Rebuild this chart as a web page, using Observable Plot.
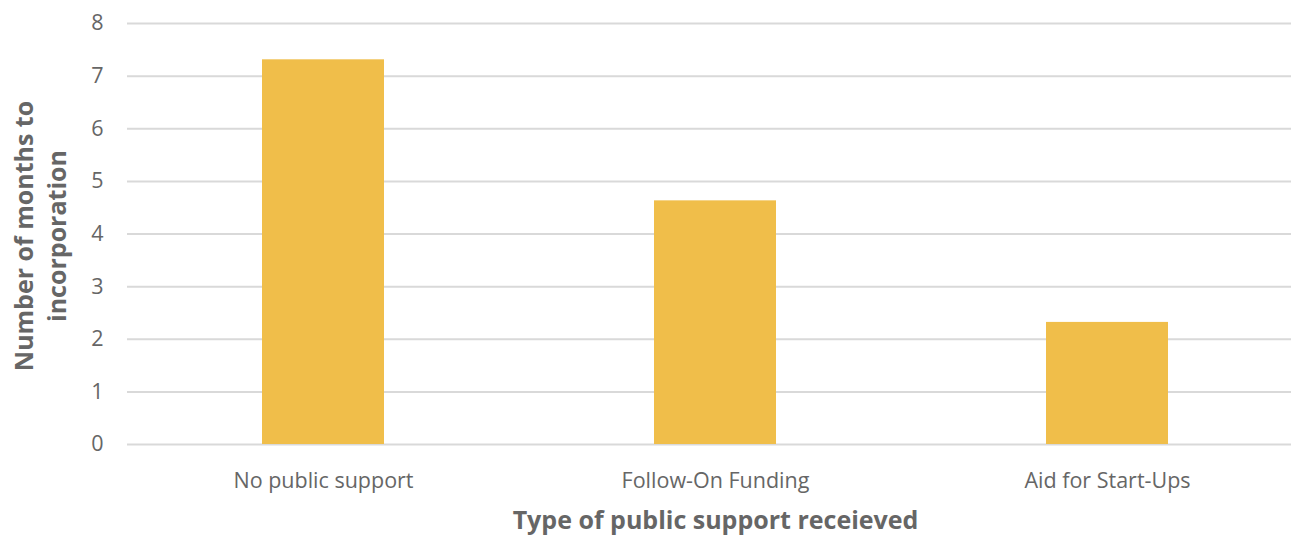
<!DOCTYPE html>
<html>
<head>
<meta charset="utf-8">
<script src="https://cdn.jsdelivr.net/npm/d3@7"></script>
<script src="https://cdn.jsdelivr.net/npm/@observablehq/plot@0.6"></script>
<style>
  html, body { margin: 0; padding: 0; background: #fff; }
  #chart svg { display: block; }
</style>
</head>
<body>
<div id="chart"></div>
<script>
const categories = ["No public support", "Follow-On Funding", "Aid for Start-Ups"];
const months = [7.31, 4.63, 2.32];
const yTicks = [0, 1, 2, 3, 4, 5, 6, 7, 8];
const xTitle = "Type of public support receieved";
const yTitle = "Number of months to\nincorporation";

const data = categories.map((c, i) => ({category: c, value: months[i]}));
const textColor = "#666666";
const font = "'Open Sans', 'Noto Sans', sans-serif";

const chart = Plot.plot({
  width: 1291,
  height: 536,
  marginTop: 23,
  marginBottom: 92,
  marginLeft: 127,
  marginRight: 0,
  style: {fontFamily: font, color: textColor, background: "#fff"},
  x: {domain: categories, range: [127, 1303], paddingInner: 0.69, paddingOuter: 0.345, label: null},
  y: {domain: [0, 8], label: null},
  marks: [
    Plot.ruleY(yTicks, {stroke: "#d9d9d9", strokeWidth: 2}),
    Plot.barY(data, {x: "category", y: "value", fill: "#F0BE4A"}),
    Plot.axisY({ticks: yTicks, tickSize: 0, tickPadding: 24, fontSize: 21.5, fill: textColor, label: null}),
    Plot.axisX({tickSize: 0, tickPadding: 28, fontSize: 21.5, fill: textColor, label: null}),
    Plot.text([xTitle], {frameAnchor: "bottom", x: () => categories[1], dy: 84, fontSize: 25, fontWeight: "bold", fill: textColor}),
    Plot.text([yTitle], {frameAnchor: "left", textAnchor: "middle", dx: -89, dy: 2, rotate: -90, fontSize: 25, fontWeight: "bold", fill: textColor, lineHeight: 1.32})
  ]
});
document.getElementById("chart").appendChild(chart);
</script>
</body>
</html>
